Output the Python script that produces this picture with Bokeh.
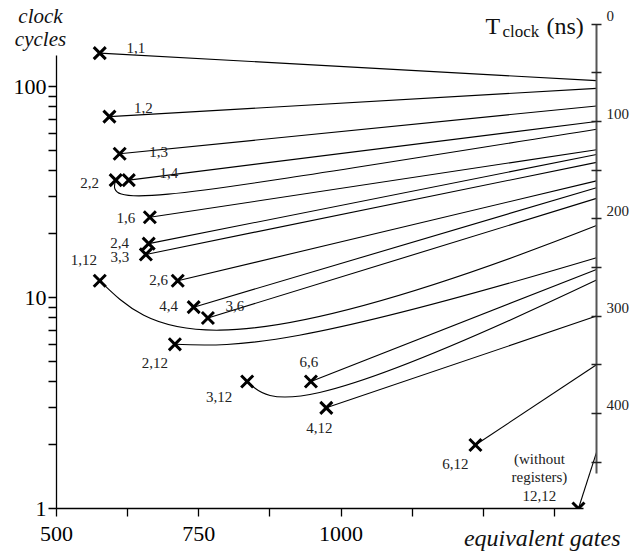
import math
from bokeh.plotting import figure
from bokeh.models import Range1d, LinearAxis, LinearScale, FixedTicker, Label, BoxAnnotation
from bokeh.core.properties import value
from bokeh.embed import file_html
from bokeh.resources import INLINE

# ---------------- data ----------------
labels = ["1,1", "1,2", "1,3", "1,4", "2,2", "1,6", "2,4", "3,3", "2,6",
          "4,4", "3,6", "1,12", "2,12", "6,6", "3,12", "4,12", "6,12", "12,12"]
gates = [576, 593, 611, 627, 604, 664, 662, 657, 713,
         741, 766, 576, 708, 947, 835, 974, 1236, 1417]
cycles = [144, 72, 48, 36, 36, 24, 18, 16, 12,
          9, 8, 12, 6, 4, 4, 3, 2, 1]
tclock_ns = [58, 66, 84, 100, 108, 129, 134, 142, 161,
             168, 179, 207, 240, 252, 263, 300, 350, 440]
curved = ["2,2", "1,12", "2,12", "3,12"]

x_ticks = [500, 625, 750, 875, 1000, 1125, 1250, 1375]
x_tick_labels = {500: "500", 750: "750", 1000: "1000"}
y_ticks = [1, 10, 100]
y_minor = [2, 3, 4, 5, 6, 7, 8, 9, 20, 30, 40, 50, 60, 70, 80, 90]
t_ticks = [0, 100, 200, 300, 400]
t_minor = [50, 150, 250, 350, 450]

# ---------------- layout / styling ----------------
W, H = 644, 551
FONT = "Liberation Serif"
# pixel anchors of the three scales (frame = whole canvas)
X0_PX, X_PER_PX = 56, 500 / 284.6          # gates 500 at px 56
Y1_PX, DECADE_PX = 508, 211                 # cycles 1 at px 508
T0_PX, T_PX_PER_NS = 23.7, 0.973            # 0 ns at px 23.7
RIGHT_AXIS_PX = 596
T_LABEL_LIFT_PX = 8                         # right-axis labels sit above their ticks

x_lo = 500 - X0_PX * X_PER_PX
x_hi = 500 + (W - X0_PX) * X_PER_PX
y_hi = 10 ** (Y1_PX / DECADE_PX)
y_lo = 10 ** (-(H - Y1_PX) / DECADE_PX)
t_top = -T0_PX / T_PX_PER_NS
t_bot = (H - T0_PX) / T_PX_PER_NS
x_right_axis = 500 + (RIGHT_AXIS_PX - X0_PX) * X_PER_PX
lift = T_LABEL_LIFT_PX / T_PX_PER_NS

# control points (gates, cycles) that shape the curved connectors
curve_ctrl = {
    "2,2": ((586, 26.0), (665, 29.0)),
    "1,12": ((665, 7.0), (753, 4.0)),
    "2,12": ((823, 5.8), (929, 5.9)),
    "3,12": ((876, 3.08), (929, 2.61)),
}

# label offsets (screen px) relative to each marker
label_dx = [36, 34, 39, 40, -26, -24, -29, -26, -19,
            -25, 27, -16, -20, -2, -28, -7, -20, -39]
label_dy = [-5, -9, -2, -7, 3, 1, -1, 3, -1,
            -1, -12, -21, 19, -19, 16, 20, 19, -31]

p = figure(width=W, height=H,
           x_range=Range1d(x_lo, x_hi), y_range=Range1d(y_lo, y_hi),
           y_axis_type="log", output_backend="svg", toolbar_location=None,
           min_border=0)
p.extra_y_ranges = {"t": Range1d(t_bot, t_top),
                    "t_lab": Range1d(t_bot + lift, t_top + lift)}
p.extra_y_scales = {"t": LinearScale(), "t_lab": LinearScale()}
p.grid.visible = False
p.outline_line_color = None
p.background_fill_color = "white"
p.border_fill_color = "white"


def t_to_cycles(t):
    frac = (t - t_bot) / (t_top - t_bot)
    lo, hi = math.log10(y_lo), math.log10(y_hi)
    return 10 ** (lo + frac * (hi - lo))


# connectors
sx0, sy0, sx1, sy1 = [], [], [], []
bx0, by0, bx1, by1, bcx0, bcy0, bcx1, bcy1 = [], [], [], [], [], [], [], []
for lab, g, c, t in zip(labels, gates, cycles, tclock_ns):
    yend = t_to_cycles(t)
    if lab in curved:
        (c0x, c0y), (c1x, c1y) = curve_ctrl[lab]
        bx0.append(g); by0.append(c); bx1.append(x_right_axis); by1.append(yend)
        bcx0.append(c0x); bcy0.append(c0y); bcx1.append(c1x); bcy1.append(c1y)
    else:
        sx0.append(g); sy0.append(c); sx1.append(x_right_axis); sy1.append(yend)

p.segment(x0=sx0, y0=sy0, x1=sx1, y1=sy1, line_color="black", line_width=1.1)
p.bezier(x0=bx0, y0=by0, x1=bx1, y1=by1, cx0=bcx0, cy0=bcy0, cx1=bcx1, cy1=bcy1,
         line_color="black", line_width=1.1)

# markers
p.scatter(x=gates, y=cycles, marker="x", size=17, line_width=3, line_color="black")
# the plot area ends at the x axis: hide what lies below it
p.add_layout(BoxAnnotation(top=1, fill_color="white", fill_alpha=1,
                           line_alpha=0, level="glyph"))

# point labels
texts = [("(without\nregisters)\n" + l) if l == "12,12" else l for l in labels]
p.text(x=gates, y=cycles, text=texts, x_offset=label_dx, y_offset=label_dy,
       text_align="center", text_baseline="middle", text_line_height=1.15,
       text_font=value(FONT), text_font_size="15px", text_color="#222222")

# axes (fixed at their data positions inside the full-canvas frame)
xa = p.xaxis[0]
xa.fixed_location = 1
xa.ticker = FixedTicker(ticks=x_ticks)
xa.major_label_overrides = {t: x_tick_labels.get(t, "") for t in x_ticks}
xa.bounds = (500, 1426)
ya = p.yaxis[0]
ya.fixed_location = 500
ya.ticker = FixedTicker(ticks=y_ticks, minor_ticks=y_minor)
ya.major_label_overrides = {1: "1", 10: "10", 100: "100"}
ya.bounds = (1, 140)
for ax in (xa, ya):
    ax.axis_line_color = "black"
    ax.axis_line_width = 1.3
    ax.major_tick_line_color = "black"
    ax.minor_tick_line_color = "black"
    ax.major_tick_line_width = 1.3
    ax.minor_tick_line_width = 1.3
    ax.major_tick_in = 0
    ax.major_tick_out = 8
    ax.minor_tick_in = 0
    ax.minor_tick_out = 8
    ax.major_label_text_font = FONT
    ax.major_label_text_font_size = "22px"
    ax.major_label_text_color = "black"
xa.major_label_standoff = 10
ya.major_label_standoff = 2

# right T_clock axis: line and ticks
ra = LinearAxis(y_range_name="t", fixed_location=x_right_axis)
ra.ticker = FixedTicker(ticks=t_ticks, minor_ticks=t_minor)
ra.bounds = (0, 462)
ra.axis_line_color = "#555555"
ra.axis_line_width = 2
ra.major_tick_line_color = "#222222"
ra.minor_tick_line_color = "#222222"
ra.major_tick_line_width = 1.3
ra.minor_tick_line_width = 1.3
ra.major_tick_in = 5
ra.major_tick_out = 5
ra.minor_tick_in = 5
ra.minor_tick_out = 5
ra.major_label_text_font_size = "0px"
ra.major_label_text_alpha = 0
p.add_layout(ra, "right")

# right T_clock axis: its tick labels, set slightly above the ticks
rl = LinearAxis(y_range_name="t_lab", fixed_location=x_right_axis)
rl.ticker = FixedTicker(ticks=t_ticks)
rl.bounds = (0, 400)
rl.axis_line_color = None
rl.major_tick_line_color = None
rl.minor_tick_line_color = None
rl.major_tick_in = 0
rl.major_tick_out = 0
rl.minor_tick_in = 0
rl.minor_tick_out = 0
rl.major_label_text_font = FONT
rl.major_label_text_font_size = "15px"
rl.major_label_text_color = "#222222"
rl.major_label_standoff = 10
p.add_layout(rl, "right")


# titles (screen px from the canvas top-left; y = visual middle of the text)
def add_label(txt, x_px, y_px, size, style="normal", align="left"):
    p.add_layout(Label(x=x_px, y=H - y_px, x_units="screen", y_units="screen",
                       text=txt, text_font=FONT, text_font_size=size,
                       text_font_style=style, text_align=align,
                       text_baseline="middle", text_color="#111111"))


add_label("clock", 40, 15, "21px", "italic", "center")
add_label("cycles", 40, 38, "21px", "italic", "center")
add_label("T", 485, 25, "24px")
add_label("clock", 502, 31, "17px")
add_label("(ns)", 546, 25, "24px")
add_label("equivalent gates", 620, 537, "24px", "italic", "right")

open("out.html", "w").write(file_html(p, INLINE))
